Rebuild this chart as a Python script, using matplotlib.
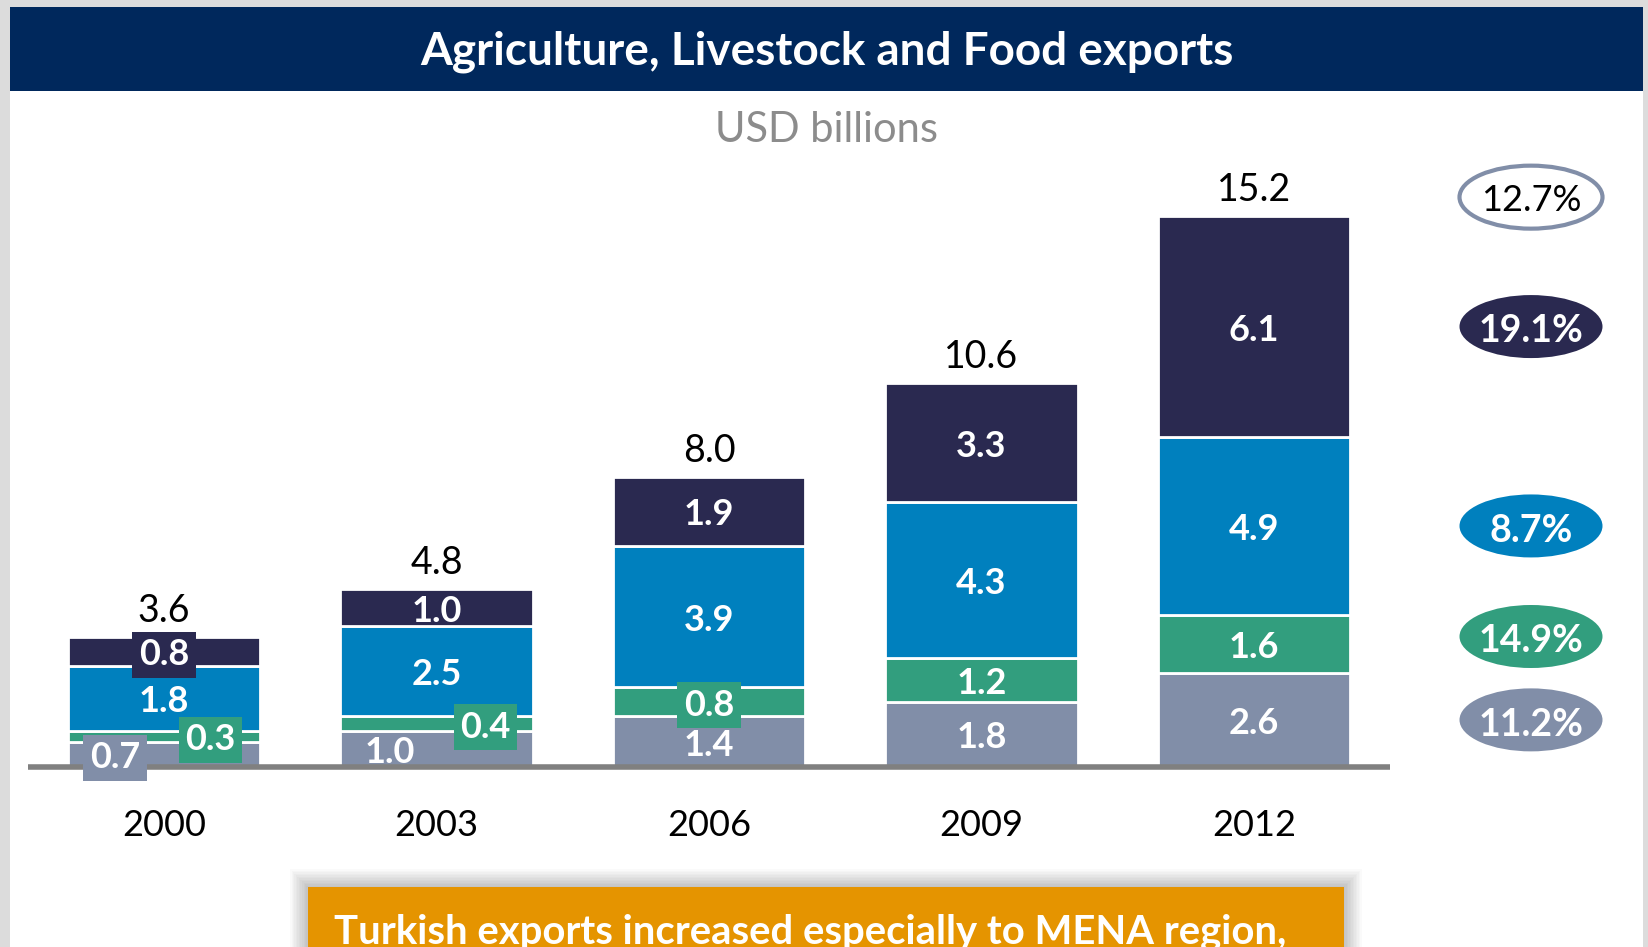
import matplotlib
matplotlib.use('Agg')
import matplotlib.pyplot as plt
from matplotlib.patches import Rectangle, Ellipse
import numpy as np

plt.rcParams['font.family'] = ['Lato', 'DejaVu Sans']

years = ['2000', '2003', '2006', '2009', '2012']
other_vals = [0.7, 1.0, 1.4, 1.8, 2.6]
livestock_vals = [0.3, 0.4, 0.8, 1.2, 1.6]
agri_vals = [1.8, 2.5, 3.9, 4.3, 4.9]
food_vals = [0.8, 1.0, 1.9, 3.3, 6.1]
totals = [3.6, 4.8, 8.0, 10.6, 15.2]

# growth rates 2000-2012, total first then one per series (top to bottom)
cagr_total = 12.7
cagr_series = [19.1, 8.7, 14.9, 11.2]

NAVY = '#2a2950'
BLUE = '#0080be'
GREEN = '#329e7e'
GREY = '#818ea8'
HEADER = '#00285c'
ORANGE = '#e59400'

W, H = 1649, 947
fig = plt.figure(figsize=(W / 100, H / 100), dpi=100)
fig.patch.set_facecolor('#dcdcdc')


def fx(px):
    return px / W


def fy(py):
    return 1 - py / H


# white page + header band
fig.add_artist(Rectangle((fx(10), 0), fx(1643) - fx(10), fy(7), transform=fig.transFigure,
                         facecolor='white', edgecolor='none', zorder=-2))
fig.add_artist(Rectangle((fx(10), fy(91)), fx(1643) - fx(10), fy(7) - fy(91),
                         transform=fig.transFigure, facecolor=HEADER, edgecolor='none', zorder=-1))
fig.text(fx(827), fy(52), 'Agriculture, Livestock and Food exports', color='white',
         fontsize=33, fontweight='bold', ha='center', va='center')
fig.text(fx(827), fy(130), 'USD billions', color='#8c8c8c', fontsize=30,
         ha='center', va='center')

# axes laid out so that x=0..4 are the bar centres and y=0 sits on the baseline
ppu = 36.25
left, right, top, bottom = 28, 1643, 150, 850
ax = fig.add_axes([fx(left), fy(bottom), fx(right) - fx(left), fy(top) - fy(bottom)])
ax.set_xlim((left - 164) / 272.5, (right - 164) / 272.5)
ax.set_ylim((767 - bottom) / ppu, (767 - top) / ppu)
ax.axis('off')

# digits sit a little high with va='center', nudge them down
nudge = 3.5 / ppu

x = np.arange(len(years))
width = 0.705
series = [
    (other_vals, GREY),
    (livestock_vals, GREEN),
    (agri_vals, BLUE),
    (food_vals, NAVY),
]

# label tweaks: (series index, bar index) -> (x shift, boxed)
label_tweaks = {
    (0, 0): (-0.18, True),
    (1, 0): (0.17, True),
    (3, 0): (0.0, True),
    (1, 1): (0.18, True),
    (0, 1): (-0.17, False),
    (1, 2): (0.0, True),
}

bottoms = np.zeros(len(years))
centres = []
for si, (vals, col) in enumerate(series):
    vals = np.array(vals)
    ax.bar(x, vals, width, bottom=bottoms, color=col, edgecolor='white', linewidth=2, zorder=2)
    mids = bottoms + vals / 2
    centres.append(mids)
    for i, (v, m) in enumerate(zip(vals, mids)):
        dx, boxed = label_tweaks.get((si, i), (0.0, False))
        kw = {}
        if boxed:
            kw['bbox'] = dict(boxstyle='square,pad=0.18', facecolor=col, edgecolor='none')
        ax.text(x[i] + dx, m - nudge, f'{v:.1f}', color='white', fontsize=26,
                fontweight='bold', ha='center', va='center', zorder=4, **kw)
    bottoms = bottoms + vals

for i, t in enumerate(totals):
    ax.annotate(f'{t:.1f}', (x[i], bottoms[i]), xytext=(0, 26), textcoords='offset pixels',
                ha='center', va='center', fontsize=27, color='black')
    ax.text(x[i], (767 - 825) / ppu, years[i], ha='center', va='center', fontsize=26,
            color='black')

# baseline
ax.plot([(left - 164) / 272.5, (1390 - 164) / 272.5], [0, 0], color='#808080', lw=4,
        solid_capstyle='butt', zorder=3)

# growth-rate ellipses beside the last bar
ex = (1531 - 164) / 272.5
ew, eh = 143 / 272.5, 63 / ppu
ty = bottoms[-1] + 0.52
ax.add_patch(Ellipse((ex, ty), ew, eh, facecolor='white', edgecolor=GREY, lw=3, zorder=3))
ax.text(ex, ty - nudge, f'{cagr_total:.1f}%', ha='center', va='center',
        fontsize=26, color='black', zorder=4)
order = [3, 2, 1, 0]
for rate, si in zip(cagr_series, order):
    cy = centres[si][-1] + (0.2 if si == 1 else 0)
    col = series[si][1]
    ax.add_patch(Ellipse((ex, cy), ew, eh, facecolor=col, edgecolor='none', zorder=3))
    ax.text(ex, cy - 1.4 * nudge, f'{rate:.1f}%', ha='center', va='center', fontsize=27,
            fontweight='bold', color='white', zorder=4)

# orange takeaway box with a soft shadow
bx0, bx1, by0 = 308, 1344, 887
for k in range(12, 0, -1):
    fig.add_artist(Rectangle((fx(bx0 - k * 1.5), 0), fx(bx1 + k * 1.5) - fx(bx0 - k * 1.5),
                             fy(by0 - k * 1.5), transform=fig.transFigure,
                             facecolor='black', edgecolor='none', alpha=0.018))
fig.add_artist(Rectangle((fx(bx0), 0), fx(bx1) - fx(bx0), fy(by0), transform=fig.transFigure,
                         facecolor=ORANGE, edgecolor='none'))
fig.text(fx(334), fy(943), 'Turkish exports increased especially to MENA region,',
         color='white', fontsize=28.8, fontweight='bold', ha='left', va='baseline')

fig.savefig('out.png', dpi=100, facecolor=fig.get_facecolor())
